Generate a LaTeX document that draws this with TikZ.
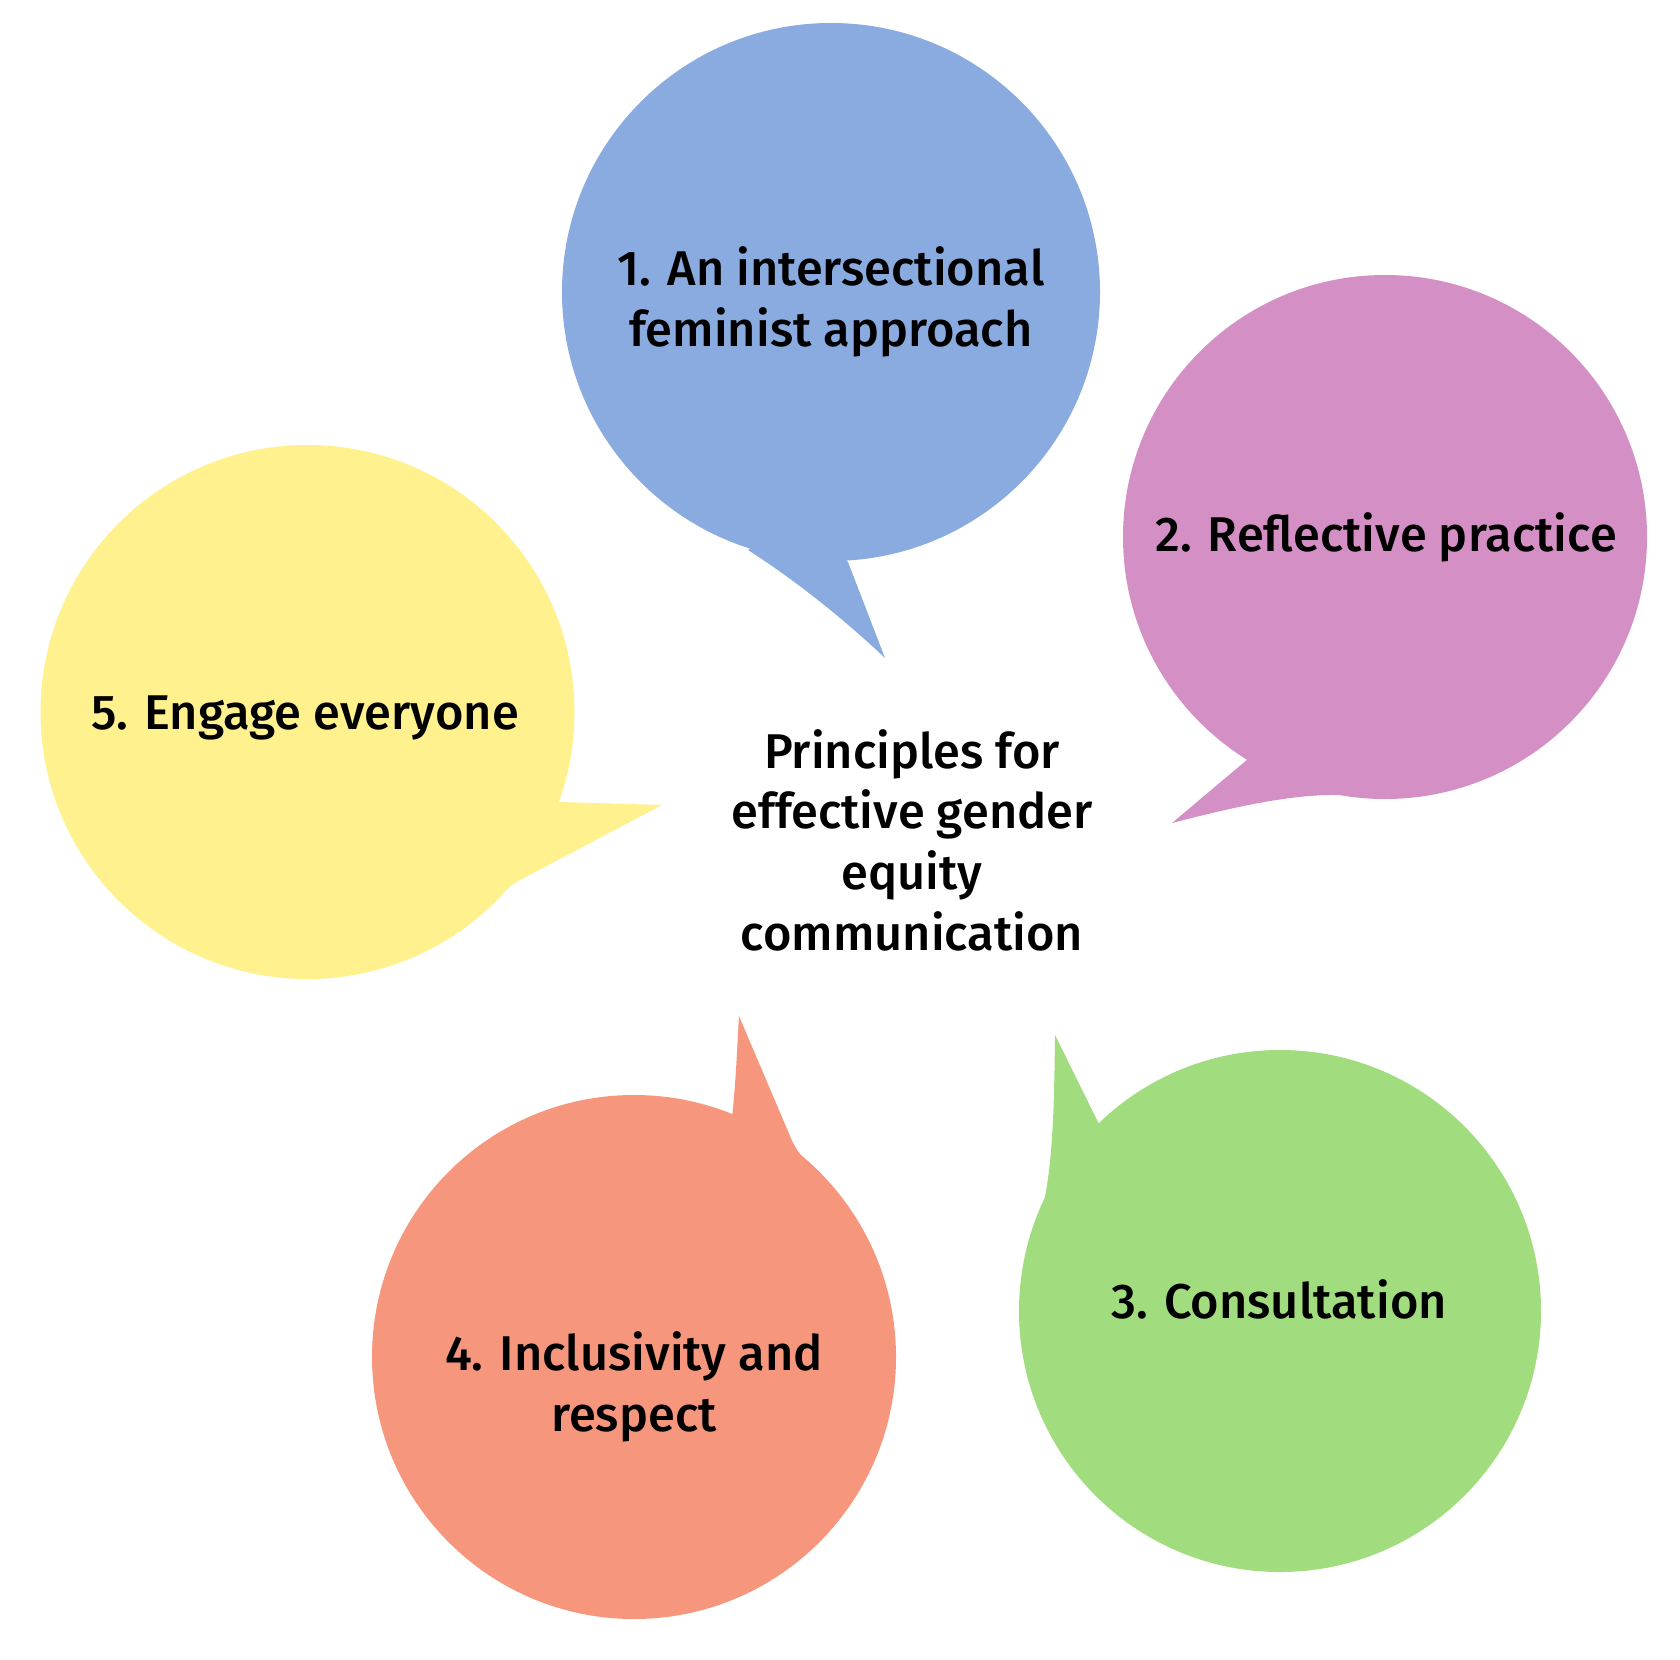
\documentclass[tikz,border=0pt]{standalone}
\usepackage{fontspec}
\setmainfont{Fira Sans}[UprightFont={* Medium}]
\definecolor{cblue}{HTML}{8AABE0}
\definecolor{cpink}{HTML}{D490C5}
\definecolor{cyellow}{HTML}{FEF18E}
\definecolor{csalmon}{HTML}{F6977D}
\definecolor{cgreen}{HTML}{A1DD7F}
\begin{document}
\begin{tikzpicture}[x=0.5pt,y=-0.5pt,
  lbl/.style={font=\fontsize{24.4}{30.3}\selectfont, align=center, anchor=base, inner sep=0pt, text=black}]
\path[use as bounding box, fill=white] (0,0) rectangle (1680,1659);
% bubble 1 (blue)
\fill[cblue] (831,292) circle[radius=269];
\fill[cblue] (748,550) .. controls (795,580) and (845,620) .. (885,658) -- (848,562) -- (800,520) -- cycle;
% bubble 2 (pink)
\fill[cpink] (1385,537) circle[radius=262];
\fill[cpink] (1248,759) -- (1172,823) .. controls (1230,808) and (1290,794) .. (1339,795) -- (1330,760) -- cycle;
% bubble 5 (yellow)
\fill[cyellow] (307.5,712) circle[radius=267];
\fill[cyellow] (560,802) -- (662,805) -- (520,880) .. controls (497,893) and (480,912) .. (460,932) -- (420,850) -- cycle;
% bubble 4 (salmon)
\fill[csalmon] (634,1357) circle[radius=262];
\fill[csalmon] (732,1118) .. controls (736,1080) and (737,1050) .. (739,1016) -- (793,1143) .. controls (800,1155) and (806,1163) .. (815,1172) -- (700,1250) -- cycle;
% bubble 3 (green)
\fill[cgreen] (1280,1311) circle[radius=261];
\fill[cgreen] (1099,1124) -- (1055,1035) .. controls (1054,1125) and (1052,1195) .. (1033,1236) -- (1150,1250) -- cycle;
% labels (base anchor = baseline of the last line)
\node[lbl] (t1) at (831,346) {1. An intersectional\\feminist approach};
\node[lbl] (t2) at (1386,551) {2. Reflective practice};
\node[lbl] (t3) at (1279,1318) {3. Consultation};
\node[lbl] (t4) at (634,1431) {4. Inclusivity and\\respect};
\node[lbl] (t5) at (305,729) {5. Engage everyone};
\node[lbl] (c) at (912,950) {Principles for\\effective gender\\equity\\communication};
\end{tikzpicture}
\end{document}
